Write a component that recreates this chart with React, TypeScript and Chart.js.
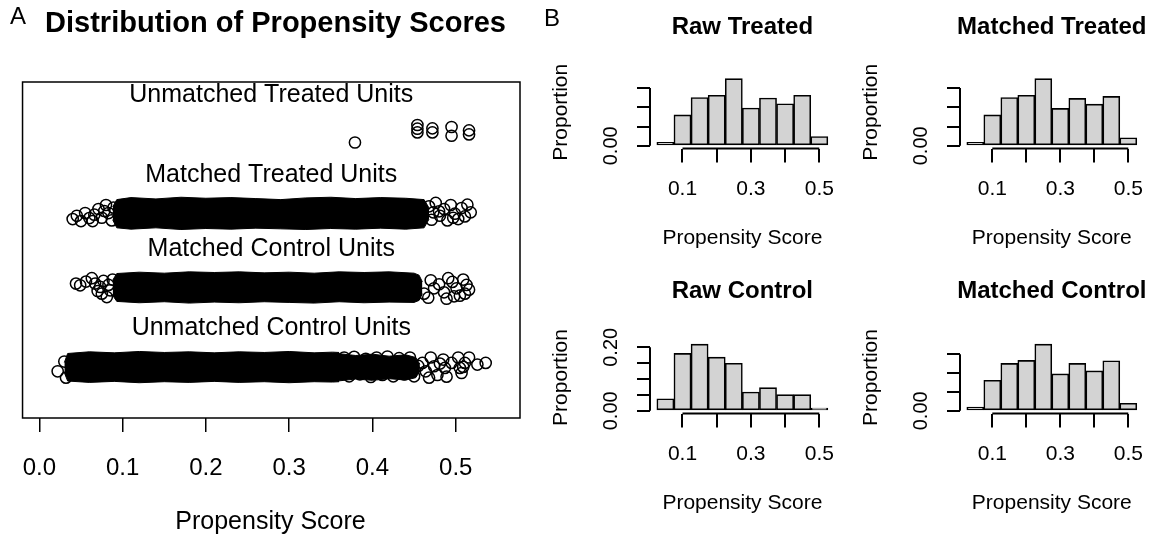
import { useEffect, useRef } from 'react';
import { Chart, registerables } from 'chart.js';

Chart.register(...registerables);

const FONT = "'Liberation Sans', Arial, Helvetica, sans-serif";

// ---------------- Panel A: jitter plot ----------------
const jitterXTicks = [0, 0.1, 0.2, 0.3, 0.4, 0.5];
const jitterXTickLabels = ['0.0', '0.1', '0.2', '0.3', '0.4', '0.5'];
const groupNames = ['Unmatched Treated Units', 'Matched Treated Units', 'Matched Control Units', 'Unmatched Control Units'];
const groupLabelY = [9.62, 7.23, 5.04, 2.68];

const unmatchedTreatedPts = [
  [0.379, 8.2], [0.454, 8.72], [0.454, 8.61], [0.454, 8.5], [0.472, 8.62], [0.472, 8.5],
  [0.495, 8.66], [0.495, 8.4], [0.516, 8.56], [0.516, 8.44],
];

// dense (solid) regions of each jittered band: upper and lower outline
const matchedTreatedTop = [
  [0.088, 6.28], [0.093, 6.5], [0.11, 6.56], [0.14, 6.52], [0.17, 6.57], [0.2, 6.54], [0.23, 6.56], [0.26, 6.53],
  [0.29, 6.5], [0.32, 6.55], [0.35, 6.57], [0.38, 6.53], [0.41, 6.56], [0.44, 6.54], [0.462, 6.5], [0.468, 6.25],
];
const matchedTreatedBottom = [
  [0.088, 5.9], [0.093, 5.66], [0.11, 5.62], [0.14, 5.66], [0.17, 5.61], [0.2, 5.64], [0.23, 5.62], [0.26, 5.65],
  [0.29, 5.63], [0.32, 5.61], [0.35, 5.64], [0.38, 5.62], [0.41, 5.65], [0.44, 5.62], [0.462, 5.66], [0.468, 5.92],
];
const matchedTreatedSparse = [
  [0.04, 5.92], [0.045, 6.02], [0.05, 5.86], [0.055, 6.1], [0.06, 5.95], [0.066, 6.05], [0.071, 6.22], [0.075, 5.96],
  [0.08, 6.34], [0.083, 6.1], [0.087, 5.88], [0.089, 6.26], [0.064, 5.86], [0.078, 6.16],
  [0.468, 6.3], [0.471, 5.9], [0.476, 6.4], [0.481, 6.02], [0.486, 6.22], [0.49, 5.88], [0.494, 6.34], [0.499, 6.08],
  [0.503, 5.92], [0.507, 6.25], [0.511, 6.0], [0.514, 6.35], [0.518, 6.12], [0.497, 5.96], [0.48, 6.15], [0.473, 6.12],
];

const matchedControlTop = [
  [0.088, 4.1], [0.093, 4.3], [0.12, 4.34], [0.15, 4.31], [0.18, 4.35], [0.21, 4.33], [0.24, 4.35], [0.27, 4.32],
  [0.3, 4.34], [0.33, 4.31], [0.36, 4.35], [0.39, 4.33], [0.42, 4.35], [0.45, 4.31], [0.456, 4.25], [0.46, 4.05],
];
const matchedControlBottom = [
  [0.088, 3.65], [0.093, 3.47], [0.12, 3.43], [0.15, 3.46], [0.18, 3.42], [0.21, 3.45], [0.24, 3.43], [0.27, 3.46],
  [0.3, 3.44], [0.33, 3.42], [0.36, 3.46], [0.39, 3.43], [0.42, 3.45], [0.45, 3.44], [0.456, 3.5], [0.46, 3.7],
];
const matchedControlSparse = [
  [0.044, 4.0], [0.049, 3.95], [0.056, 4.06], [0.063, 4.16], [0.067, 4.0], [0.073, 3.9], [0.077, 4.08], [0.075, 3.7],
  [0.081, 3.6], [0.085, 3.8], [0.088, 4.12], [0.083, 3.96], [0.07, 3.78],
  [0.462, 3.7], [0.467, 3.58], [0.474, 3.86], [0.48, 3.98], [0.486, 3.74], [0.491, 4.16], [0.496, 4.05], [0.501, 3.86],
  [0.505, 3.64], [0.509, 4.12], [0.513, 3.96], [0.511, 3.7], [0.489, 3.55], [0.516, 3.82], [0.47, 4.1], [0.498, 3.62],
];

const unmatchedControlTop = [
  [0.03, 1.65], [0.034, 1.92], [0.06, 1.97], [0.09, 1.94], [0.12, 1.98], [0.15, 1.95], [0.18, 1.97], [0.21, 1.94],
  [0.24, 1.97], [0.27, 1.95], [0.3, 1.98], [0.33, 1.94], [0.352, 1.96], [0.36, 1.95],
];
const unmatchedControlBottom = [
  [0.03, 1.35], [0.034, 1.1], [0.06, 1.06], [0.09, 1.09], [0.12, 1.05], [0.15, 1.08], [0.18, 1.06], [0.21, 1.09],
  [0.24, 1.06], [0.27, 1.08], [0.3, 1.05], [0.33, 1.08], [0.352, 1.07], [0.36, 1.08],
];
const unmatchedControlMidTop = [[0.358, 1.92], [0.38, 1.86], [0.4, 1.9], [0.42, 1.84], [0.44, 1.88], [0.452, 1.8], [0.457, 1.6]];
const unmatchedControlMidBottom = [[0.358, 1.1], [0.38, 1.16], [0.4, 1.12], [0.42, 1.17], [0.44, 1.13], [0.452, 1.2], [0.457, 1.4]];
const unmatchedControlSparse = [
  [0.022, 1.39], [0.03, 1.68], [0.032, 1.2],
  [0.366, 1.8], [0.372, 1.24], [0.378, 1.82], [0.385, 1.3], [0.392, 1.76], [0.398, 1.22], [0.405, 1.8],
  [0.412, 1.28], [0.418, 1.83], [0.425, 1.24], [0.432, 1.78], [0.438, 1.3], [0.445, 1.8], [0.45, 1.24], [0.455, 1.55],
  [0.46, 1.64], [0.464, 1.39], [0.47, 1.8], [0.474, 1.54], [0.478, 1.28], [0.485, 1.74], [0.487, 1.49], [0.489, 1.23],
  [0.495, 1.64], [0.503, 1.8], [0.505, 1.49], [0.507, 1.34], [0.511, 1.64], [0.516, 1.8], [0.509, 1.52], [0.526, 1.59],
  [0.536, 1.64], [0.468, 1.2], [0.481, 1.62],
];

// ---------------- Panel B: histograms ----------------
const binMids = [0.05, 0.1, 0.15, 0.2, 0.25, 0.3, 0.35, 0.4, 0.45, 0.5];
const rawTreated = [0.009, 0.08, 0.125, 0.131, 0.174, 0.098, 0.124, 0.109, 0.131, 0.024];
const matchedTreated = [0.009, 0.08, 0.125, 0.131, 0.174, 0.097, 0.123, 0.108, 0.128, 0.021];
const rawControl = [0.038, 0.181, 0.21, 0.169, 0.15, 0.059, 0.073, 0.051, 0.051, 0.009];
const matchedControl = [0.01, 0.081, 0.126, 0.134, 0.177, 0.098, 0.126, 0.106, 0.133, 0.02];
const histXTicks = [0.1, 0.2, 0.3, 0.4, 0.5];
const histXTickLabels = ['0.1', '', '0.3', '', '0.5'];
const histYTicksShort = [0, 0.05, 0.1, 0.15];
const histYLabelsShort = ['0.00', '', '', ''];
const histYTicksLong = [0, 0.05, 0.1, 0.15, 0.2];
const histYLabelsLong = ['0.00', '', '', '', '0.20'];

const toPts = (arr: number[][]) => arr.map(([x, y]) => ({ x, y }));

function ChartCanvas({ x, y, w, h, make }: any) {
  const ref = useRef<HTMLCanvasElement>(null);
  useEffect(() => {
    const chart = new Chart(ref.current as HTMLCanvasElement, make());
    return () => chart.destroy();
  }, []);
  return (
    <canvas
      ref={ref}
      width={w}
      height={h}
      style={{ position: 'absolute', left: x, top: y, width: w, height: h }}
    />
  );
}

function makeJitter(): any {
  const bandPairs = [
    [matchedTreatedTop, matchedTreatedBottom],
    [matchedControlTop, matchedControlBottom],
    [unmatchedControlTop, unmatchedControlBottom],
    [unmatchedControlMidTop, unmatchedControlMidBottom],
  ];
  const fills: any[] = [];
  bandPairs.forEach(([top, bottom]) => {
    fills.push({ type: 'line', data: toPts(top), borderColor: '#000', borderWidth: 1, pointRadius: 0, fill: false, tension: 0 });
    fills.push({ type: 'line', data: toPts(bottom), borderColor: '#000', borderWidth: 1, pointRadius: 0, fill: '-1', backgroundColor: '#000', tension: 0 });
  });
  const circ = (arr: number[][]) => ({
    type: 'scatter',
    data: toPts(arr),
    pointStyle: 'circle',
    pointRadius: 5.6,
    pointBackgroundColor: 'rgba(0,0,0,0)',
    pointBorderColor: '#000',
    pointBorderWidth: 1.5,
  });
  const textPlugin = {
    id: 'jitterText',
    afterDraw(chart: any) {
      const { ctx, chartArea, scales } = chart;
      ctx.save();
      ctx.strokeStyle = '#000';
      ctx.lineWidth = 1.5;
      ctx.strokeRect(chartArea.left, chartArea.top, chartArea.right - chartArea.left, chartArea.bottom - chartArea.top);
      ctx.fillStyle = '#000';
      ctx.textAlign = 'center';
      ctx.textBaseline = 'middle';
      const cx = (chartArea.left + chartArea.right) / 2;
      ctx.font = `25px ${FONT}`;
      groupNames.forEach((name, i) => {
        ctx.fillText(name, cx, scales.y.getPixelForValue(groupLabelY[i]));
      });
      ctx.fillText('Propensity Score', 270.5, 522);
      ctx.font = `bold 29px ${FONT}`;
      ctx.fillText('Distribution of Propensity Scores', 275.5, 24);
      ctx.font = `24px ${FONT}`;
      ctx.fillText('A', 18, 17);
      ctx.restore();
    },
  };
  return {
    type: 'scatter',
    data: {
      datasets: [
        ...fills,
        circ(unmatchedTreatedPts),
        circ(matchedTreatedSparse),
        circ(matchedControlSparse),
        circ(unmatchedControlSparse),
      ],
    },
    options: {
      responsive: false,
      animation: false,
      events: [],
      layout: { padding: { left: 20, right: 20, top: 82, bottom: 0 } },
      plugins: { legend: { display: false }, tooltip: { enabled: false } },
      scales: {
        x: {
          type: 'linear',
          min: -0.0202,
          max: 0.5772,
          afterFit: (s: any) => { s.height = 119; },
          afterBuildTicks: (s: any) => { s.ticks = jitterXTicks.map((v) => ({ value: v })); },
          ticks: {
            callback: (_v: any, i: number) => jitterXTickLabels[i],
            font: { family: FONT, size: 24 },
            color: '#000',
            padding: 22,
            autoSkip: false,
            maxRotation: 0,
          },
          grid: { drawOnChartArea: false, tickLength: 14, color: '#000', lineWidth: 1.5 },
          border: { display: false },
        },
        y: { type: 'linear', min: 0, max: 10, display: false },
      },
    },
    plugins: [textPlugin],
  };
}

function makeHist(p: any): any {
  const maxV = Math.max(...p.values);
  const histPlugin = {
    id: 'histDeco',
    afterDraw(chart: any) {
      const { ctx, chartArea, scales } = chart;
      const xs = scales.x;
      const ys = scales.y;
      ctx.save();
      ctx.strokeStyle = '#000';
      ctx.lineWidth = 2;
      ctx.beginPath();
      ctx.moveTo(xs.getPixelForValue(histXTicks[0]), chartArea.bottom);
      ctx.lineTo(xs.getPixelForValue(histXTicks[histXTicks.length - 1]), chartArea.bottom);
      ctx.moveTo(chartArea.left, ys.getPixelForValue(p.yTicks[0]));
      ctx.lineTo(chartArea.left, ys.getPixelForValue(p.yTicks[p.yTicks.length - 1]));
      ctx.stroke();
      ctx.fillStyle = '#000';
      ctx.textAlign = 'center';
      ctx.textBaseline = 'middle';
      const cx = (chartArea.left + chartArea.right) / 2;
      ctx.font = `bold 24px ${FONT}`;
      ctx.fillText(p.title, cx, p.titleY);
      ctx.font = `21px ${FONT}`;
      ctx.fillText('Propensity Score', cx, p.xlabY);
      ctx.save();
      ctx.translate(21.7, (chartArea.top + chartArea.bottom) / 2);
      ctx.rotate(-Math.PI / 2);
      ctx.fillText('Proportion', 0, 0);
      ctx.restore();
      if (p.letter) {
        ctx.font = `24px ${FONT}`;
        ctx.fillText(p.letter, 12, 19);
      }
      ctx.restore();
    },
  };
  return {
    type: 'bar',
    data: {
      datasets: [
        {
          data: binMids.map((x, i) => ({ x, y: p.values[i] })),
          backgroundColor: '#d3d3d3',
          borderColor: '#000',
          borderWidth: 1.6,
          borderSkipped: false,
          barPercentage: 1,
          categoryPercentage: 1,
          grouped: false,
        },
      ],
    },
    options: {
      responsive: false,
      animation: false,
      events: [],
      layout: { padding: { left: p.area.left - 60, right: p.w - p.area.right, top: p.area.top, bottom: 0 } },
      plugins: { legend: { display: false }, tooltip: { enabled: false } },
      scales: {
        x: {
          type: 'linear',
          min: 0.005,
          max: 0.545,
          offset: false,
          afterFit: (s: any) => { s.height = p.h - p.area.bottom; },
          afterBuildTicks: (s: any) => { s.ticks = histXTicks.map((v) => ({ value: v })); },
          ticks: {
            callback: (_v: any, i: number) => histXTickLabels[i],
            font: { family: FONT, size: 21 },
            color: '#000',
            padding: 14,
            autoSkip: false,
            maxRotation: 0,
          },
          grid: { drawOnChartArea: false, tickLength: 14, color: '#000', lineWidth: 2, offset: false },
          border: { display: false },
        },
        y: {
          type: 'linear',
          min: -0.04 * maxV,
          max: 1.04 * maxV,
          afterFit: (s: any) => { s.width = 60; },
          afterBuildTicks: (s: any) => { s.ticks = p.yTicks.map((v: number) => ({ value: v })); },
          ticks: {
            callback: (_v: any, i: number) => p.yLabels[i],
            font: { family: FONT, size: 20 },
            color: '#000',
            minRotation: 90,
            maxRotation: 90,
            crossAlign: 'center',
            padding: 6,
            autoSkip: false,
          },
          grid: { drawOnChartArea: false, tickLength: 13, color: '#000', lineWidth: 2 },
          border: { display: false },
        },
      },
    },
    plugins: [histPlugin],
  };
}

const panels = [
  { x: 540, y: 0, w: 310, h: 268, title: 'Raw Treated', values: rawTreated, yTicks: histYTicksShort, yLabels: histYLabelsShort, area: { left: 110, right: 294.7, top: 76, bottom: 148.5 }, titleY: 27, xlabY: 238.3, letter: 'B' },
  { x: 850, y: 0, w: 308, h: 268, title: 'Matched Treated', values: matchedTreated, yTicks: histYTicksShort, yLabels: histYLabelsShort, area: { left: 110, right: 294.7, top: 76, bottom: 148.5 }, titleY: 27, xlabY: 238.3 },
  { x: 540, y: 268, w: 310, h: 269, title: 'Raw Control', values: rawControl, yTicks: histYTicksLong, yLabels: histYLabelsLong, area: { left: 110, right: 294.7, top: 73.5, bottom: 145.5 }, titleY: 23.7, xlabY: 235.3 },
  { x: 850, y: 268, w: 308, h: 269, title: 'Matched Control', values: matchedControl, yTicks: histYTicksShort, yLabels: histYLabelsShort, area: { left: 110, right: 294.7, top: 73.5, bottom: 145.5 }, titleY: 23.7, xlabY: 235.3 },
];

export default function App() {
  return (
    <div style={{ position: 'fixed', left: 0, top: 0, width: 1158, height: 537, background: '#fff', overflow: 'hidden' }}>
      <ChartCanvas x={0} y={0} w={540} h={537} make={makeJitter} />
      {panels.map((p, i) => (
        <ChartCanvas key={i} x={p.x} y={p.y} w={p.w} h={p.h} make={() => makeHist(p)} />
      ))}
    </div>
  );
}
